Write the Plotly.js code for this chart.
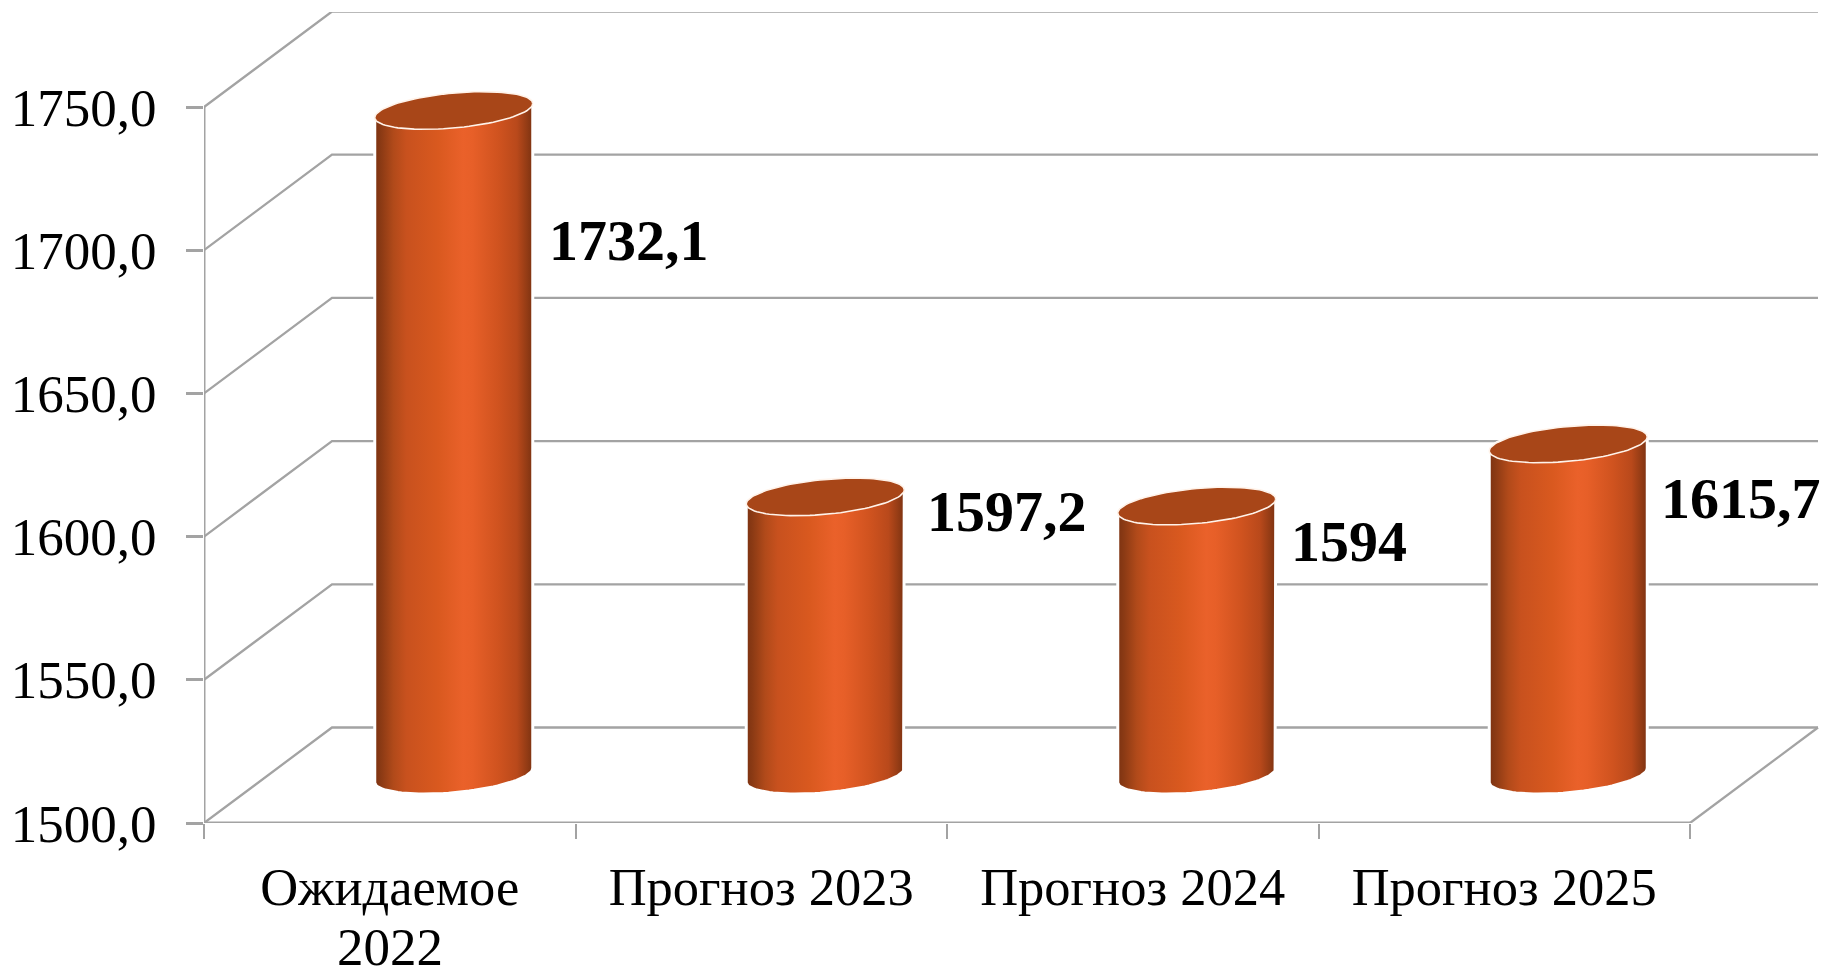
<!DOCTYPE html>
<html><head><meta charset="utf-8">
<script src="https://cdn.plot.ly/plotly-3.0.1.min.js"></script>
<style>html,body{margin:0;padding:0;background:#fff;overflow:hidden}#c{width:1827px;height:970px}</style>
</head><body><div id="c"></div>
<script>
const categories = ['Ожидаемое', 'Прогноз 2023', 'Прогноз 2024', 'Прогноз 2025'];
const categorySecondLine = ['2022', '', '', ''];
const values = [1732.1, 1597.2, 1594, 1615.7];
const valueLabels = ['1732,1', '1597,2', '1594', '1615,7'];
const tickValues = [1500, 1550, 1600, 1650, 1700, 1750];
const tickLabels = ['1500,0', '1550,0', '1600,0', '1650,0', '1700,0', '1750,0'];

// label anchors (hand placed in the original chart), in axis units
const labelX = [0.428, 1.447, 2.425, 3.423];
const labelY = [1703.5, 1608.7, 1598.2, 1613.4];

// geometry of the pseudo-3D frame
const ML = 204, MR = 8, MT = 12, MB = 147, W = 1827, H = 970;
const PXX = 371.5, PXY = 2.864;
const depthX = 128 / PXX, depthY = 95.5 / PXY;
const halfW = 79 / PXX, ellB = 17.5 / PXY, ellC = 7 / PXY;
const x0 = -0.5, x1 = 3.5, yMin = 1500, yMax = 1750;
const gridColor = '#a3a3a3';

const gx = [], gy = [];
tickValues.forEach(v => {
  gx.push(x0, x0 + depthX, x1 + depthX, null);
  gy.push(v, v + depthY, v + depthY, null);
});
gx.push(x1 + depthX, x1, null); gy.push(yMin + depthY, yMin, null);
const axX = [x0, x0, null, x0, x1];
const axY = [yMax, yMin, null, yMin, yMin];

const traces = [
  {x: gx, y: gy, mode: 'lines', line: {color: gridColor, width: 2.3}, cliponaxis: false, hoverinfo: 'skip', showlegend: false},
  {x: axX, y: axY, mode: 'lines', line: {color: gridColor, width: 3}, cliponaxis: false, hoverinfo: 'skip', showlegend: false}
];

function ell(cx, cy, t) {
  return [cx + halfW * Math.cos(t), cy + ellB * Math.sin(t) + ellC * Math.cos(t)];
}
const bodyScale = [[0,'#7c3211'],[0.04,'#8b3a14'],[0.12,'#b14a1a'],[0.2,'#c8511e'],[0.4,'#d9591f'],[0.56,'#ea612a'],[0.62,'#e75f28'],[0.78,'#d0531f'],[0.9,'#b9491b'],[0.96,'#953c15'],[1,'#7c3211']];

values.forEach((v, i) => {
  const cx = i + depthX / 2;
  const top = v + depthY / 2, bot = yMin + depthY / 2;
  const bx = [], by = [];
  for (let k = 0; k <= 48; k++) { const p = ell(cx, top, Math.PI - k / 48 * Math.PI); bx.push(p[0]); by.push(p[1]); }
  for (let k = 0; k <= 48; k++) { const p = ell(cx, bot, -k / 48 * Math.PI); bx.push(p[0]); by.push(p[1]); }
  bx.push(bx[0]); by.push(by[0]);
  traces.push({x: bx, y: by, mode: 'lines', fill: 'toself', line: {color: '#ffffff', width: 3},
    fillgradient: {type: 'horizontal', colorscale: bodyScale}, cliponaxis: false, hoverinfo: 'skip', showlegend: false});
  const tx = [], ty = [];
  for (let k = 0; k <= 96; k++) { const p = ell(cx, top, k / 96 * 2 * Math.PI); tx.push(p[0]); ty.push(p[1]); }
  traces.push({x: tx, y: ty, mode: 'lines', fill: 'toself', fillcolor: '#a84618', line: {color: '#fff3ea', width: 1.6},
    cliponaxis: false, hoverinfo: 'skip', showlegend: false});
});

const annotations = valueLabels.map((t, i) => ({
  x: labelX[i], y: labelY[i], xref: 'x', yref: 'y', text: '<b>' + t + '</b>', showarrow: false,
  xanchor: 'left', yanchor: 'middle', xshift: -2, font: {family: 'Liberation Serif', size: 58, color: '#000'}
}));
categorySecondLine.forEach((t, i) => {
  if (t) annotations.push({x: i, y: 0, xref: 'x', yref: 'paper', yshift: -124, text: t, showarrow: false,
    xanchor: 'center', yanchor: 'middle', font: {family: 'Liberation Serif', size: 53, color: '#000'}});
});

const layout = {
  width: W, height: H, margin: {l: ML, r: MR, t: MT, b: MB, pad: 0},
  paper_bgcolor: '#fff', plot_bgcolor: 'rgba(0,0,0,0)', showlegend: false,
  font: {family: 'Liberation Serif', color: '#000'},
  xaxis: {
    type: 'linear', range: [x0, x0 + (W - ML - MR) / PXX], showgrid: false, zeroline: false, showline: false,
    tickmode: 'array', tickvals: categories.map((c, i) => i), ticktext: categories, ticks: '',
    tickfont: {family: 'Liberation Serif', size: 52.5, color: '#000'}, ticklabelstandoff: 28,
    minor: {ticks: 'outside', tickmode: 'array', tickvals: [-0.5, 0.5, 1.5, 2.5, 3.5], ticklen: 15, tickwidth: 2.3, tickcolor: gridColor, showgrid: false}
  },
  yaxis: {
    type: 'linear', range: [yMin, yMin + (H - MT - MB) / PXY], showgrid: false, zeroline: false, showline: false,
    tickmode: 'array', tickvals: tickValues, ticktext: tickLabels, ticks: 'outside', ticklen: 17, tickwidth: 2.6, tickcolor: gridColor,
    tickfont: {family: 'Liberation Serif', size: 53, color: '#000'}, ticklabelstandoff: 19
  },
  annotations: annotations
};
Plotly.newPlot('c', traces, layout, {displayModeBar: false, responsive: false});
</script></body></html>
